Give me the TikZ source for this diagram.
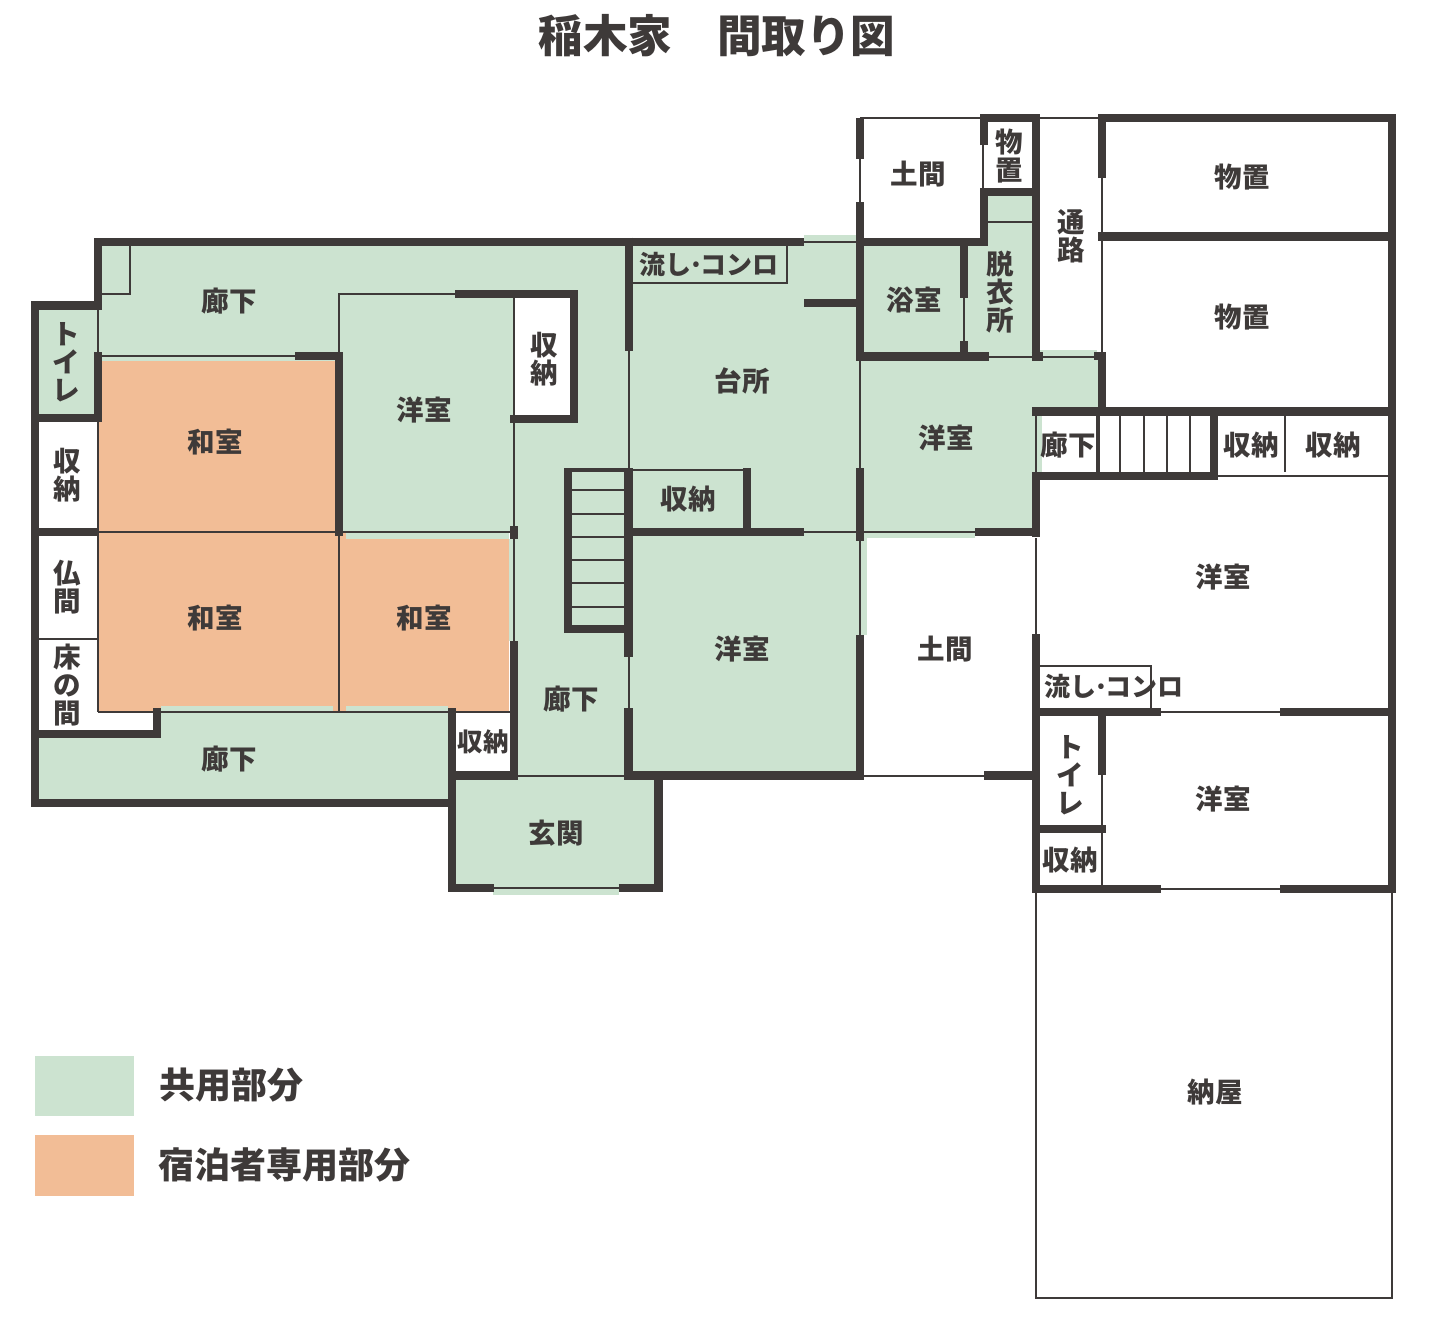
\documentclass[tikz,border=0pt]{standalone}
\usepackage{fontspec}
\setmainfont{Noto Sans CJK JP}
\definecolor{ink}{HTML}{3E3A39}
\definecolor{gr}{HTML}{CCE3D0}
\definecolor{og}{HTML}{F2BD96}
\tikzset{
  wall/.style={draw=ink,line width=8.4pt,line cap=butt,line join=miter},
  thinw/.style={draw=ink,line width=2pt,line cap=butt},
  hair/.style={draw=ink,line width=1.5pt,line cap=butt},
  gfill/.style={fill=gr,draw=none},
  ofill/.style={fill=og,draw=none},
  wfill/.style={fill=white,draw=none},
  lbl/.style={text=ink,inner sep=0pt,align=center,font=\fontsize{27.5}{28}\selectfont\bfseries},
  lblw/.style={lbl,font=\fontsize{25.5}{28}\selectfont\bfseries},
  lbln/.style={lbl,font=\fontsize{26}{28}\selectfont\bfseries},
  ttl/.style={text=ink,inner sep=0pt,font=\fontsize{44.6}{48}\selectfont\bfseries},
  leg/.style={text=ink,inner sep=0pt,anchor=west,font=\fontsize{36}{38}\selectfont\bfseries}
}
\begin{document}
\begin{tikzpicture}[x=1pt,y=-1pt]
\useasboundingbox (0,0) rectangle (1439,1333);
% ---- fills
\path[gfill] (98,241) rectangle (629,361);
\path[gfill] (339,294) rectangle (514,532);
\path[gfill] (514,241) rectangle (629,775);
\path[gfill] (35,305) rectangle (98,418);
\path[wfill] (514,298) rectangle (574,419);
\path[wfill] (40,418) rectangle (98,532);
\path[gfill] (35,734) rectangle (452,803);
\path[gfill] (157,706) rectangle (452,734);
\path[gfill] (452,775) rectangle (658,888);
\path[gfill] (493,888) rectangle (619,895);
\path[gfill] (629,241) rectangle (860,775);
\path[gfill] (804,235) rectangle (856,242);
\path[gfill] (860,241) rectangle (1036,532);
\path[gfill] (1036,356) rectangle (1100,411);
\path[gfill] (1040,350) rectangle (1097,357);
\path[gfill] (865,532) rectangle (975,538);
\path[gfill] (860,532) rectangle (867,635);
\path[gfill] (1036,411) rectangle (1042,476);
\path[gfill] (987,195) rectangle (1033,245);
\path[gfill] (509,539) rectangle (514,641);
% orange
\path[ofill] (98,360.5) rectangle (337,532);
\path[ofill] (98,532) rectangle (339,712);
\path[ofill] (339,532) rectangle (509,712);
\path[gfill] (346,532) rectangle (509,538.5);
\path[gfill] (161,706) rectangle (333,711);
\path[gfill] (346,706) rectangle (448,711);
\path[wfill] (456,712) rectangle (510,772);
% ---- thin lines
\draw[thinw] (102,356) -- (295,356);
\draw[thinw] (98,305) -- (98,352);
\draw[thinw] (98,421) -- (98,712);
\draw[thinw] (130,246) -- (130,294) -- (102,294);
\draw[thinw] (339,352) -- (339,294) -- (455,294);
\draw[thinw] (514,298) -- (514,642);
\draw[thinw] (98,532) -- (514,532);
\draw[thinw] (339,532) -- (339,712);
\draw[thinw] (98,712) -- (514,712);
\draw[thinw] (35,638.5) -- (98,638.5);
\draw[thinw] (629,351) -- (629,470);
\draw[thinw] (628.5,657) -- (628.5,708);
\draw[thinw] (518,775.5) -- (625,775.5);
\draw[thinw] (493,888) -- (619,888);
\draw[thinw] (632,282.7) -- (786.7,282.7) -- (786.7,246);
\draw[thinw] (804,241.7) -- (859,241.7);
\draw[thinw] (860,118) -- (980,118);
\draw[thinw] (1040,118) -- (1098,118);
\draw[thinw] (860,159) -- (860,202);
\draw[thinw] (860,360) -- (860,468);
\draw[thinw] (860,541) -- (860,635);
\draw[thinw] (983,145) -- (983,188);
\draw[thinw] (964,298) -- (964,341);
\draw[thinw] (988,221.7) -- (1032,221.7);
\draw[thinw] (989,356.5) -- (1032,356.5);
\draw[thinw] (1043,356.5) -- (1095,356.5);
\draw[thinw] (1101.7,178) -- (1101.7,352);
\draw[thinw] (804,532) -- (975,532);
\draw[thinw] (1036,416) -- (1036,472);
\draw[thinw] (1036,538) -- (1036,634);
\draw[thinw] (1218,476) -- (1388,476);
\draw[thinw] (1284.5,415) -- (1284.5,472);
\draw[thinw] (1120,415) -- (1120,472);
\draw[thinw] (1144,415) -- (1144,472);
\draw[thinw] (1167,415) -- (1167,472);
\draw[thinw] (1190,415) -- (1190,472);
\draw[line width=4.4pt,draw=ink] (1098,411) -- (1098,475);
\draw[hair] (1040,666) -- (1151,666) -- (1151,708);
\draw[thinw] (1161,712) -- (1280,712);
\draw[thinw] (1161,888.7) -- (1280,888.7);
\draw[thinw] (1102,775) -- (1102,888);
\draw[thinw] (864,775.5) -- (984,775.5);
\draw[hair] (1036,892) -- (1036,1298) -- (1392,1298) -- (1392,892);
% stairs
\foreach \yy in {490,513.5,537,560,583,607}{\draw[thinw] (572,\yy) -- (625,\yy);}
\draw[line width=4.4pt,draw=ink] (565,470) -- (633,470);
\draw[thinw] (632,470) -- (745,470);
% ---- walls
\draw[wall] (98,310) -- (98,241.7) -- (804,241.7);
\draw[wall] (35,803) -- (35,305.5) -- (102,305.5);
\draw[wall] (31,418) -- (102,418);
\draw[wall] (98,352) -- (98,422);
\draw[wall] (31,532) -- (98,532);
\draw[wall] (295,356) -- (339,356) -- (339,536);
\draw[wall] (455,294) -- (574,294) -- (574,419) -- (509.5,419);
\draw[wall] (629,237.5) -- (629,351);
\draw[wall] (514,526) -- (514,539);
\draw[wall] (514,641) -- (514,780);
\draw[wall] (35,734) -- (157,734) -- (157,708);
\draw[wall] (31,803) -- (452,803);
\draw[wall] (452,708) -- (452,888) -- (493.5,888);
\draw[wall] (452,775.5) -- (518,775.5);
\draw[wall] (618.5,888) -- (658.5,888) -- (658.5,771.5);
\draw[wall] (568,468) -- (568,629) -- (632.5,629);
\draw[wall] (628.5,468) -- (628.5,657);
\draw[wall] (628.5,708) -- (628.5,775.5) -- (864,775.5);
\draw[wall] (625,532) -- (804,532);
\draw[wall] (747,468) -- (747,532);
\draw[wall] (804,303) -- (856,303);
\draw[wall] (860,118) -- (860,159);
\draw[wall] (860,202) -- (860,360.7);
\draw[wall] (860,468) -- (860,541);
\draw[wall] (860,635) -- (860,779);
\draw[wall] (860,241.7) -- (984,241.7) -- (984,188);
\draw[wall] (984,145) -- (984,117.7) -- (1036,117.7) -- (1036,360.5);
\draw[wall] (980,192) -- (1036,192);
\draw[wall] (964,241) -- (964,298);
\draw[wall] (964,341) -- (964,356);
\draw[wall] (856,356.5) -- (989,356.5);
\draw[wall] (1031.7,356.5) -- (1043,356.5);
\draw[wall] (1094,356.2) -- (1102,356.2);
\draw[wall] (1102,352) -- (1102,411);
\draw[wall] (1102,178) -- (1102,117.7) -- (1392,117.7) -- (1392,892.7);
\draw[wall] (1098,236.5) -- (1392,236.5);
\draw[wall] (1032,411.5) -- (1392,411.5);
\draw[wall] (1214,411) -- (1214,480);
\draw[wall] (1032,476) -- (1218,476);
\draw[wall] (1036,472) -- (1036,537);
\draw[wall] (975,532) -- (1040,532);
\draw[wall] (1036,634) -- (1036,892.7);
\draw[wall] (1036,712) -- (1161,712);
\draw[wall] (1280,712) -- (1392,712);
\draw[wall] (1102,712) -- (1102,775);
\draw[wall] (1036,828.7) -- (1106,828.7);
\draw[wall] (1032,888.7) -- (1161,888.7);
\draw[wall] (1280,888.7) -- (1396,888.7);
\draw[wall] (984,775.5) -- (1032,775.5);
% ---- labels
\node[ttl] (title) at (717,36) {稲木家　間取り図};
\node[lbl] (a1) at (229,301) {廊下};
\node[lbl] (a2) at (66,362) {ト\\イ\\レ};
\node[lbl] (a3) at (544,359) {収\\納};
\node[lbl] (a4) at (424,410) {洋室};
\node[lbl] (a5) at (215,442) {和室};
\node[lbl] (a6) at (67,475) {収\\納};
\node[lbl] (a7) at (67,587) {仏\\間};
\node[lbl] (a8) at (67,685) {床\\の\\間};
\node[lbl] (a9) at (215,618) {和室};
\node[lbl] (a10) at (424,618) {和室};
\node[lbl] (a11) at (229,759) {廊下};
\node[lblw] (a12) at (483,742) {収納};
\node[lbl] (a13) at (571,699) {廊下};
\node[lbl] (a14) at (556,833) {玄関};
\node[lbln] (a15) at (709,265) {流し\hspace{-3pt}·\hspace{-3pt}コンロ};
\node[lbl] (a16) at (742,381) {台所};
\node[lbl] (a17) at (688,499) {収納};
\node[lbl] (a18) at (742,649) {洋室};
\node[lbl] (a19) at (918,174) {土間};
\node[lbl] (a20) at (1009,156) {物\\置};
\node[lbl] (a21) at (1071,236) {通\\路};
\node[lbl] (a22) at (1000,292) {脱\\衣\\所};
\node[lbl] (a23) at (914,300) {浴室};
\node[lbl] (a24) at (946,438) {洋室};
\node[lbl] (a25) at (1068,445) {廊下};
\node[lbl] (a26) at (1242,177) {物置};
\node[lbl] (a27) at (1242,317) {物置};
\node[lbl] (a28) at (1251,445) {収納};
\node[lbl] (a29) at (1333,445) {収納};
\node[lbl] (a30) at (1223,577) {洋室};
\node[lbl] (a31) at (945,649) {土間};
\node[lbln] (a32) at (1114,687) {流し\hspace{-3pt}·\hspace{-3pt}コンロ};
\node[lbl] (a33) at (1223,799) {洋室};
\node[lbl] (a34) at (1070,775) {ト\\イ\\レ};
\node[lbl] (a35) at (1070,860) {収納};
\node[lbl] (a36) at (1215,1092) {納屋};
% ---- legend
\path[gfill] (35,1056) rectangle (134,1116);
\path[ofill] (35,1135) rectangle (134,1196);
\node[leg] (l1) at (159,1085) {共用部分};
\node[leg] (l2) at (158,1165) {宿泊者専用部分};
\end{tikzpicture}
\end{document}
